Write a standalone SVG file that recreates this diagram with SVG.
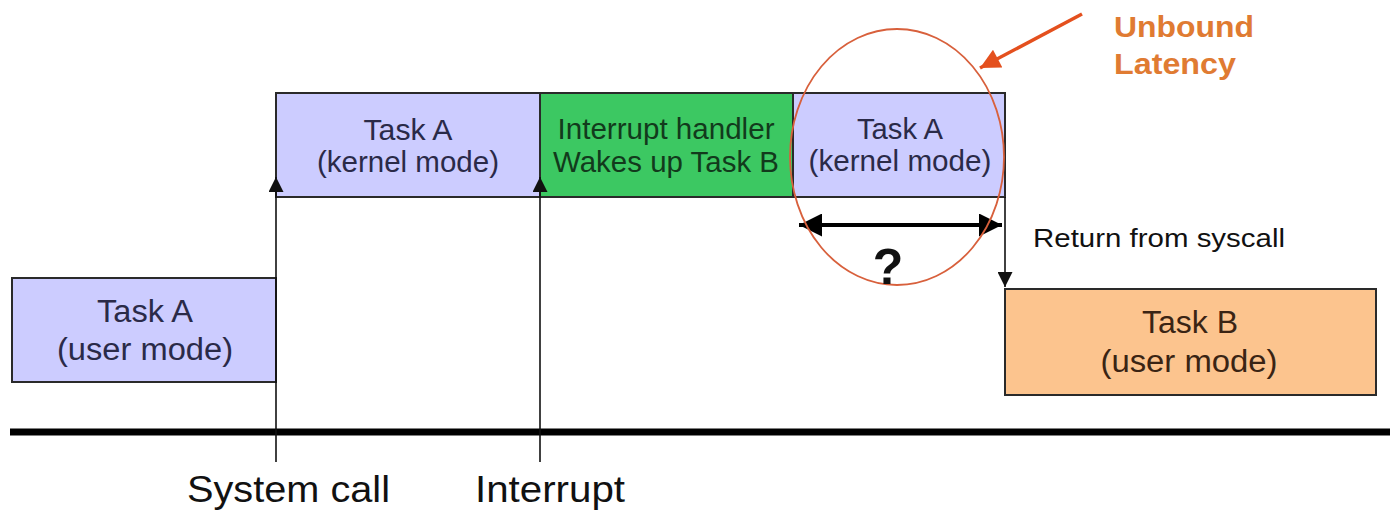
<svg xmlns="http://www.w3.org/2000/svg" width="1390" height="512" viewBox="0 0 1390 512">
<defs>
<style>
.box{stroke:#2a2a2a;stroke-width:2}
.purple{fill:#ccccff}
.green{fill:#3cc862}
.orange{fill:#fcc48e}
.t{font-family:"Liberation Sans",Arial,sans-serif;text-anchor:middle}
.k{font-size:29px}
.u{font-size:31px}
.tp{fill:#2a2a48}
.tg{fill:#123a1c}
.to{fill:#3a2414}
.lat{font-family:"Liberation Sans",Arial,sans-serif;font-size:30px;font-weight:bold;fill:#e07b32}
.lbl{font-family:"Liberation Sans",Arial,sans-serif;fill:#111}
.ln{stroke:#111;stroke-width:1.6;fill:none}
</style>
<marker id="ah" viewBox="0 0 10 10" refX="10" refY="5" markerWidth="16" markerHeight="15" markerUnits="userSpaceOnUse" orient="auto">
<path d="M0,0 L10,5 L0,10 z" fill="#111"/>
</marker>
<marker id="dh" viewBox="0 0 10 10" refX="10" refY="5" markerWidth="20" markerHeight="15" markerUnits="userSpaceOnUse" orient="auto">
<path d="M0,0 L10,5 L0,10 z" fill="#111"/>
</marker>
<marker id="bh" viewBox="0 0 10 10" refX="10" refY="5" markerWidth="33" markerHeight="23" markerUnits="userSpaceOnUse" orient="auto-start-reverse">
<path d="M0,0 L10,5 L0,10 z" fill="#000"/>
</marker>
<marker id="oh" viewBox="0 0 10 10" refX="10" refY="5" markerWidth="32" markerHeight="20" markerUnits="userSpaceOnUse" orient="auto">
<path d="M0,0 L10,5 L0,10 z" fill="#e4501e"/>
</marker>
</defs>
<rect width="1390" height="512" fill="#fff"/>

<g id="timeline">
<line x1="10" y1="432" x2="1390" y2="432" stroke="#000" stroke-width="7"/>
</g>

<g id="task-a-user">
<rect class="box purple" x="12" y="278" width="264" height="104"/>
<text class="t u tp" x="145" y="322" textLength="96" lengthAdjust="spacingAndGlyphs">Task A</text>
<text class="t u tp" x="145" y="360" textLength="176" lengthAdjust="spacingAndGlyphs">(user mode)</text>
</g>

<g id="task-a-kernel-1">
<rect class="box purple" x="276" y="93" width="264" height="104"/>
<text class="t k tp" x="408" y="140" textLength="89" lengthAdjust="spacingAndGlyphs">Task A</text>
<text class="t k tp" x="408" y="172" textLength="182" lengthAdjust="spacingAndGlyphs">(kernel mode)</text>
</g>

<g id="interrupt-handler">
<rect class="box green" x="540" y="93" width="253" height="104"/>
<text class="t k tg" x="666" y="139" textLength="217" lengthAdjust="spacingAndGlyphs">Interrupt handler</text>
<text class="t k tg" x="666" y="172" textLength="226" lengthAdjust="spacingAndGlyphs">Wakes up Task B</text>
</g>

<g id="task-a-kernel-2">
<rect class="box purple" x="793" y="93" width="212" height="104"/>
<text class="t k tp" x="900" y="139" textLength="86" lengthAdjust="spacingAndGlyphs">Task A</text>
<text class="t k tp" x="900" y="171" textLength="183" lengthAdjust="spacingAndGlyphs">(kernel mode)</text>
</g>

<g id="task-b-user">
<rect class="box orange" x="1005" y="289" width="371" height="106"/>
<text class="t u to" x="1190" y="333" textLength="96" lengthAdjust="spacingAndGlyphs">Task B</text>
<text class="t u to" x="1189" y="372" textLength="177" lengthAdjust="spacingAndGlyphs">(user mode)</text>
</g>

<g id="connectors">
<line class="ln" x1="276" y1="462" x2="276" y2="177" marker-end="url(#ah)"/>
<line class="ln" x1="540" y1="462" x2="540" y2="177" marker-end="url(#ah)"/>
<line class="ln" x1="1005" y1="197" x2="1005" y2="287" marker-end="url(#dh)"/>
<line x1="799" y1="225" x2="1002" y2="225" stroke="#000" stroke-width="4" marker-start="url(#bh)" marker-end="url(#bh)"/>
<line x1="1082" y1="14" x2="980" y2="68" stroke="#e4501e" stroke-width="3.5" marker-end="url(#oh)"/>
</g>

<g id="latency">
<ellipse cx="897" cy="157" rx="107" ry="128" fill="none" stroke="#d8603c" stroke-width="1.8"/>
<text class="lbl" x="888" y="284" font-size="50" font-weight="bold" text-anchor="middle">?</text>
<text class="lat" x="1114" y="37" textLength="140" lengthAdjust="spacingAndGlyphs">Unbound</text>
<text class="lat" x="1114" y="74" textLength="122" lengthAdjust="spacingAndGlyphs">Latency</text>
</g>

<g id="labels">
<text class="lbl" x="1033" y="247" font-size="25" textLength="252" lengthAdjust="spacingAndGlyphs">Return from syscall</text>
<text class="lbl" x="187" y="502" font-size="37" textLength="203" lengthAdjust="spacingAndGlyphs">System call</text>
<text class="lbl" x="475" y="502" font-size="37" textLength="150" lengthAdjust="spacingAndGlyphs">Interrupt</text>
</g>
</svg>
